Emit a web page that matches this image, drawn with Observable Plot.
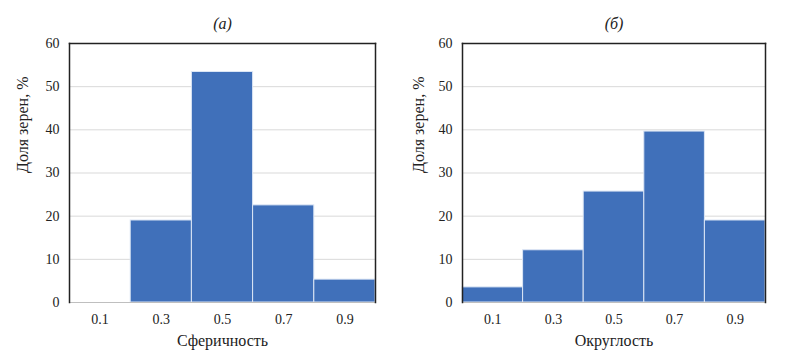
<!DOCTYPE html>
<html>
<head>
<meta charset="utf-8">
<script src="https://cdn.jsdelivr.net/npm/d3@7"></script>
<script src="https://cdn.jsdelivr.net/npm/@observablehq/plot@0.6"></script>
<style>
  html, body { margin: 0; padding: 0; background: #fff; }
  #wrap { display: flex; width: 793px; height: 360px; }
</style>
</head>
<body>
<div id="wrap"></div>
<script>
const binCenters = [0.1, 0.3, 0.5, 0.7, 0.9];
const binLow = [0.0, 0.2, 0.4, 0.6, 0.8];
const binHigh = [0.2, 0.4, 0.6, 0.8, 1.0];
const sphericity = [0, 19.0, 53.4, 22.5, 5.3];
const roundness = [3.5, 12.1, 25.7, 39.6, 19.0];
const yTicks = [0, 10, 20, 30, 40, 50, 60];
const titles = ["(a)", "(б)"];
const xLabels = ["Сферичность", "Округлость"];
const yLabel = "Доля зерен, %";
const SERIF = "Liberation Serif";

function panel(values, title, xLabel, w, mLeft, mRight) {
  const data = binCenters.map((c, i) => ({lo: binLow[i], hi: binHigh[i], v: values[i]}));
  const svg = Plot.plot({
    width: w,
    height: 360,
    marginTop: 43,
    marginBottom: 58,
    marginLeft: mLeft,
    marginRight: mRight,
    style: {fontSize: "14px", color: "#222", background: "#fff"},
    x: {domain: [0, 1], label: null},
    y: {domain: [0, 60], label: null},
    marks: [
      Plot.gridY(yTicks.filter(t => t > 0 && t < 60), {stroke: "#d9d9d9", strokeOpacity: 1, strokeWidth: 1}),
      Plot.rectY(data.filter(d => d.v > 0), {x1: "lo", x2: "hi", y: "v", fill: "#4070ba", stroke: "#dce6f5", strokeWidth: 1}),
      Plot.ruleY([0], {stroke: "#bfbfbf", strokeWidth: 1}),
      Plot.frame({anchor: "top", stroke: "#222", strokeWidth: 1.5}),
      Plot.frame({anchor: "left", stroke: "#222", strokeWidth: 1.5}),
      Plot.frame({anchor: "right", stroke: "#222", strokeWidth: 1.5}),
      Plot.axisX({ticks: binCenters, tickFormat: d => d.toFixed(1), tickSize: 0, tickPadding: 12, fontSize: 14, label: null}),
      Plot.axisY({ticks: yTicks, tickSize: 0, tickPadding: 10, fontSize: 14, label: null}),
      Plot.text([xLabel], {frameAnchor: "bottom", dy: 43, fontSize: 16, fill: "#222"}),
      Plot.text([yLabel], {frameAnchor: "left", dx: -mLeft + 22, rotate: -90, fontSize: 16, fill: "#222"}),
      Plot.text([title], {frameAnchor: "top", dy: -26, fontSize: 16, fontStyle: "italic", fill: "#222"})
    ]
  });
  svg.style.fontFamily = SERIF;
  svg.querySelectorAll("g, text").forEach(el => {
    el.setAttribute("font-family", SERIF);
    el.style.fontFamily = SERIF;
  });
  return svg;
}

const wrap = document.getElementById("wrap");
wrap.appendChild(panel(sphericity, titles[0], xLabels[0], 396, 69, 21));
wrap.appendChild(panel(roundness, titles[1], xLabels[1], 397, 66, 28));
</script>
</body>
</html>
